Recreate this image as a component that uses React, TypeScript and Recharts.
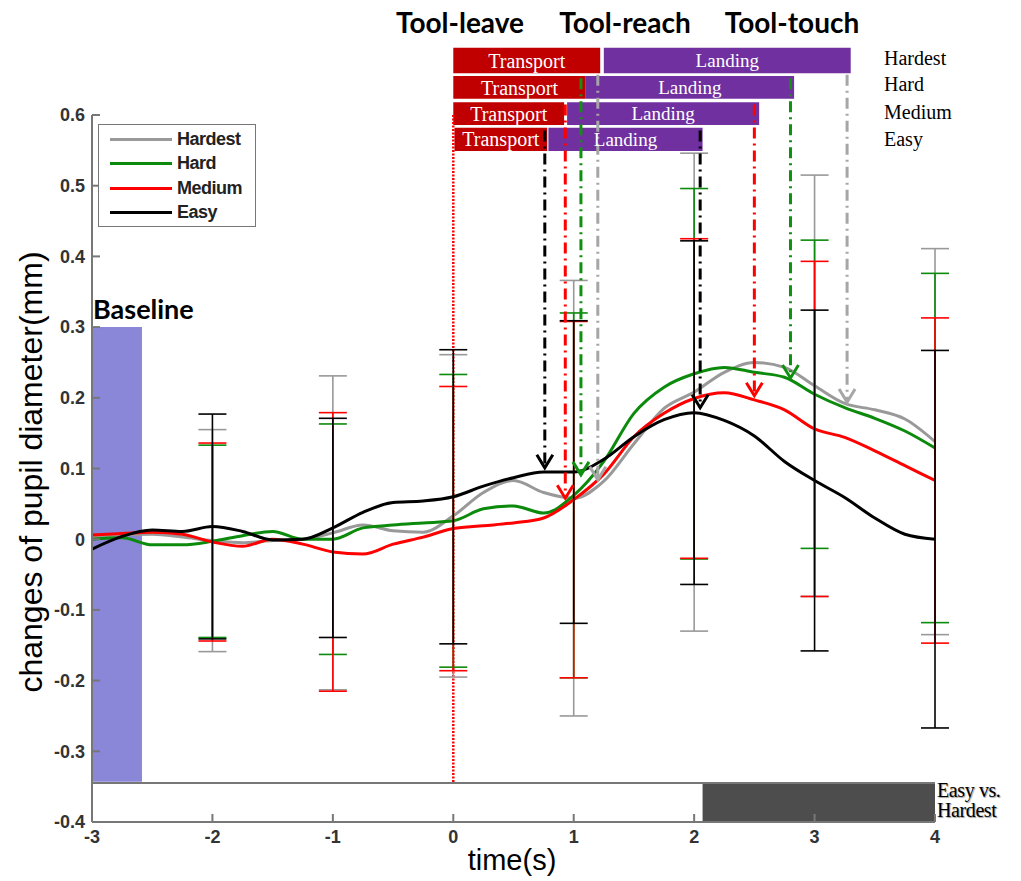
import React from "react";
import {
  ComposedChart,
  Line,
  XAxis,
  YAxis,
  ErrorBar,
  ReferenceArea,
  ReferenceLine,
  ReferenceDot,
  Legend,
} from "recharts";

// time axis (s), sampled every 0.25 s
const TIME = [
  -3, -2.75, -2.5, -2.25, -2, -1.75, -1.5, -1.25, -1, -0.75, -0.5, -0.25, 0, 0.25, 0.5, 0.75, 1, 1.25, 1.5,
  1.75, 2, 2.25, 2.5, 2.75, 3, 3.25, 3.5, 3.75, 4,
];
const HARDEST = [
  0.003, 0.006, 0.007, 0.003, -0.002, -0.005, -0.002, 0.0, 0.009, 0.02, 0.012, 0.01, 0.033, 0.066, 0.083,
  0.066, 0.058, 0.082, 0.135, 0.185, 0.208, 0.236, 0.25, 0.243, 0.217, 0.192, 0.183, 0.17, 0.138,
];
const HARD = [
  0.0, 0.002, -0.008, -0.008, -0.003, 0.005, 0.011, 0.0, 0.0, 0.016, 0.02, 0.023, 0.026, 0.043, 0.047, 0.037,
  0.062, 0.11, 0.178, 0.215, 0.234, 0.243, 0.236, 0.229, 0.205, 0.186, 0.171, 0.153, 0.129,
];
const MEDIUM = [
  0.006, 0.008, 0.01, 0.007, -0.004, -0.01, 0.0, -0.007, -0.018, -0.021, -0.007, 0.003, 0.015, 0.019, 0.023,
  0.03, 0.056, 0.092, 0.145, 0.178, 0.199, 0.207, 0.197, 0.183, 0.156, 0.144, 0.125, 0.104, 0.083,
];
const EASY = [
  -0.014, 0.004, 0.013, 0.011, 0.018, 0.011, -0.001, 0.0, 0.016, 0.038, 0.052, 0.054, 0.06, 0.075, 0.087,
  0.095, 0.095, 0.113, 0.145, 0.169, 0.179, 0.168, 0.146, 0.11, 0.083, 0.059, 0.03, 0.007, 0.0,
];

// error bar half lengths at whole seconds
const ERR_TIME = [-2, -1, 0, 1, 2, 3, 4];
const HARDEST_ERR = [0.157, 0.222, 0.228, 0.308, 0.338, 0.298, 0.273];
const HARD_ERR = [0.136, 0.163, 0.207, 0.258, 0.262, 0.218, 0.247];
const MEDIUM_ERR = [0.14, 0.197, 0.201, 0.252, 0.226, 0.237, 0.23];
const EASY_ERR = [0.159, 0.155, 0.208, 0.214, 0.243, 0.241, 0.267];

const X_TICKS = [-3, -2, -1, 0, 1, 2, 3, 4];
const Y_TICKS = [-0.4, -0.3, -0.2, -0.1, 0, 0.1, 0.2, 0.3, 0.4, 0.5, 0.6];

// phase bars above the plot, one row per condition
const CONDITIONS = ["Hardest", "Hard", "Medium", "Easy"];
const ROW_TOP = [0.695, 0.655, 0.618, 0.582];
const ROW_BOTTOM = [0.659, 0.623, 0.586, 0.549];
const TRANSPORT_START = [0, 0, 0, 0.01];
const TRANSPORT_END = [1.22, 1.1, 0.92, 0.78];
const LANDING_START = [1.25, 1.1, 0.945, 0.79];
const LANDING_END = [3.3, 2.83, 2.54, 2.07];
const REACH_TIME = [1.2, 1.06, 0.93, 0.76];
const REACH_VALUE = [0.084, 0.091, 0.058, 0.101];
const TOUCH_TIME = [3.27, 2.8, 2.5, 2.05];
const TOUCH_VALUE = [0.194, 0.228, 0.203, 0.186];
const MARKER_TOP = [0.657, 0.652, 0.615, 0.578];

const BASELINE = { x1: -3, x2: -2.585, y1: -0.343, y2: 0.3 };
const STRIP_TOP = -0.345;
const SIGNIFICANT = { x1: 2.07, x2: 4 };

const SERIES = [
  { key: "hardest", name: "Hardest", color: "#999999", marker: "#a6a6a6", values: HARDEST, err: HARDEST_ERR },
  { key: "hard", name: "Hard", color: "#0b8a0b", marker: "#109010", values: HARD, err: HARD_ERR },
  { key: "medium", name: "Medium", color: "#ff0000", marker: "#ff0000", values: MEDIUM, err: MEDIUM_ERR },
  { key: "easy", name: "Easy", color: "#000000", marker: "#000000", values: EASY, err: EASY_ERR },
];

const data = TIME.map((t, i) => {
  const row: Record<string, number | undefined> = { t };
  const k = ERR_TIME.indexOf(t);
  SERIES.forEach((s) => {
    row[s.key] = s.values[i];
    row[s.key + "Err"] = k >= 0 ? s.err[k] : undefined;
  });
  return row;
});

const AXIS_FONT = "'Liberation Sans Narrow', 'Liberation Sans', Arial, sans-serif";
const SERIF = "'Liberation Serif', 'Times New Roman', serif";

// legend keeps the series order (recharts sorts the payload by name)
const renderLegend = (props: any) => {
  const payload: any[] = props.payload || [];
  return (
    <div
      style={{
        width: 158,
        height: 103,
        border: "1.5px solid #777",
        boxSizing: "border-box",
        background: "#fff",
        paddingTop: 2,
      }}
    >
      {SERIES.map((s) => {
        const entry = payload.find((p) => p.value === s.name);
        return (
          <div key={s.name} style={{ display: "flex", alignItems: "center", height: 24.5, marginLeft: 11 }}>
            <span
              style={{ display: "inline-block", width: 62, height: 3, background: entry ? entry.color : s.color, marginRight: 5 }}
            />
            <span style={{ font: `bold 18px ${AXIS_FONT}`, color: "#222", letterSpacing: -0.5 }}>{s.name}</span>
          </div>
        );
      })}
    </div>
  );
};

const arrowHead = (color: string) => (p: any) =>
  (
    <path
      d={`M${p.cx - 8},${p.cy - 13} L${p.cx},${p.cy} L${p.cx + 8},${p.cy - 13}`}
      fill="none"
      stroke={color}
      strokeWidth={3}
    />
  );

const Txt = ({ x, y, children, style }: { x: number; y: number; children: React.ReactNode; style: React.CSSProperties }) => (
  <div style={{ position: "absolute", left: x, top: y, transform: "translate(-50%, -50%)", whiteSpace: "nowrap", ...style }}>
    {children}
  </div>
);

export default function App() {
  const heading: React.CSSProperties = { font: "bold 28px Lato, 'Open Sans', sans-serif", color: "#000" };
  const condLabel: React.CSSProperties = { font: `20px ${SERIF}`, color: "#000" };
  const strip: React.CSSProperties = {
    position: "absolute",
    left: 937,
    font: `20px ${SERIF}`,
    lineHeight: "19px",
    height: 19,
    letterSpacing: -0.4,
    color: "#000",
    textShadow: "1px 1px 1px #999",
    whiteSpace: "nowrap",
  };
  return (
    <div style={{ position: "absolute", left: 0, top: 0, width: 1021, height: 881, background: "#fff", overflow: "hidden" }}>
      <ComposedChart width={1021} height={881} data={data} margin={{ top: 115, right: 86, bottom: 19, left: 32 }}>
        <XAxis
          dataKey="t"
          type="number"
          domain={[-3, 4]}
          ticks={X_TICKS}
          allowDataOverflow
          height={40}
          stroke="#777"
          strokeWidth={2}
          tickSize={-8}
          tickMargin={16}
          tick={{ fill: "#333", fontSize: 18, fontWeight: "bold", fontFamily: AXIS_FONT }}
        />
        <YAxis
          type="number"
          domain={[-0.4, 0.6]}
          ticks={Y_TICKS}
          width={60}
          stroke="#777"
          strokeWidth={2}
          tickSize={-8}
          tickMargin={15}
          tick={{ fill: "#333", fontSize: 18, fontWeight: "bold", fontFamily: AXIS_FONT }}
        />
        <Legend
          layout="vertical"
          align="center"
          verticalAlign="middle"
          content={renderLegend}
          wrapperStyle={{ left: 98, top: 124, width: 158, height: 103 }}
        />

        {CONDITIONS.map((c, i) => (
          <ReferenceArea
            key={"tr" + c}
            x1={TRANSPORT_START[i]}
            x2={TRANSPORT_END[i]}
            y1={ROW_BOTTOM[i]}
            y2={ROW_TOP[i]}
            fill="#c00000"
            fillOpacity={1}
            ifOverflow="visible"
            label={{ value: "Transport", position: "center", fill: "#fff", fontSize: 20, fontFamily: SERIF }}
          />
        ))}
        {CONDITIONS.map((c, i) => (
          <ReferenceArea
            key={"la" + c}
            x1={LANDING_START[i]}
            x2={LANDING_END[i]}
            y1={ROW_BOTTOM[i]}
            y2={ROW_TOP[i]}
            fill="#7030a0"
            fillOpacity={1}
            ifOverflow="visible"
            label={{ value: "Landing", position: "center", fill: "#fff", fontSize: 19, fontFamily: SERIF }}
          />
        ))}

        <ReferenceLine
          segment={[
            { x: 0, y: 0.6 },
            { x: 0, y: STRIP_TOP },
          ]}
          stroke="#ff0000"
          strokeWidth={2.5}
          strokeDasharray="2 1.5"
          ifOverflow="visible"
        />
        <ReferenceLine y={STRIP_TOP} stroke="#777" strokeWidth={2} />
        <ReferenceArea
          x1={SIGNIFICANT.x1}
          x2={SIGNIFICANT.x2}
          y1={-0.4}
          y2={STRIP_TOP}
          fill="#4d4d4d"
          fillOpacity={1}
          ifOverflow="visible"
        />

        {SERIES.map((s) => (
          <Line
            key={s.key}
            dataKey={s.key}
            name={s.name}
            stroke={s.color}
            strokeWidth={3}
            type="monotone"
            dot={false}
            activeDot={false}
            isAnimationActive={false}
          >
            <ErrorBar dataKey={s.key + "Err"} width={14} stroke={s.color} strokeWidth={1.6} direction="y" isAnimationActive={false} />
          </Line>
        ))}

        <ReferenceArea
          x1={BASELINE.x1}
          x2={BASELINE.x2}
          y1={BASELINE.y1}
          y2={BASELINE.y2}
          fill="#2a23b8"
          fillOpacity={0.55}
          ifOverflow="visible"
          label={(p: any) => (
            <text
              x={p.viewBox.x + 1}
              y={p.viewBox.y - 8}
              style={{ font: "bold 27px Lato, 'Open Sans', sans-serif" }}
              fill="#000"
            >
              Baseline
            </text>
          )}
        />

        {SERIES.map((s, i) => (
          <ReferenceLine
            key={"reach" + s.key}
            segment={[
              { x: REACH_TIME[i], y: MARKER_TOP[i] },
              { x: REACH_TIME[i], y: REACH_VALUE[i] },
            ]}
            stroke={s.marker}
            strokeWidth={3}
            strokeDasharray="11 5 2 5"
            ifOverflow="visible"
          />
        ))}
        {SERIES.map((s, i) => (
          <ReferenceLine
            key={"touch" + s.key}
            segment={[
              { x: TOUCH_TIME[i], y: MARKER_TOP[i] },
              { x: TOUCH_TIME[i], y: TOUCH_VALUE[i] },
            ]}
            stroke={s.marker}
            strokeWidth={3}
            strokeDasharray="11 5 2 5"
            ifOverflow="visible"
          />
        ))}
        {SERIES.map((s, i) => (
          <ReferenceDot key={"ra" + s.key} x={REACH_TIME[i]} y={REACH_VALUE[i]} r={1} ifOverflow="visible" shape={arrowHead(s.marker)} />
        ))}
        {SERIES.map((s, i) => (
          <ReferenceDot key={"ta" + s.key} x={TOUCH_TIME[i]} y={TOUCH_VALUE[i]} r={1} ifOverflow="visible" shape={arrowHead(s.marker)} />
        ))}
      </ComposedChart>

      <Txt x={460} y={22} style={heading}>Tool-leave</Txt>
      <Txt x={625} y={22} style={heading}>Tool-reach</Txt>
      <Txt x={792} y={22} style={heading}>Tool-touch</Txt>

      {CONDITIONS.map((c, i) => (
        <div key={c} style={{ position: "absolute", left: 884, top: [47, 73, 101, 128][i], ...condLabel }}>
          {c}
        </div>
      ))}

      <div style={{ ...strip, top: 781 }}>Easy vs.</div>
      <div style={{ ...strip, top: 801 }}>Hardest</div>

      <Txt x={512} y={860} style={{ font: "29px 'Liberation Sans', Arial, sans-serif", color: "#000" }}>time(s)</Txt>
      <Txt
        x={31}
        y={472}
        style={{ font: "32px 'Liberation Sans', Arial, sans-serif", color: "#000", transform: "translate(-50%, -50%) rotate(-90deg)" }}
      >
        changes of pupil diameter(mm)
      </Txt>
    </div>
  );
}
